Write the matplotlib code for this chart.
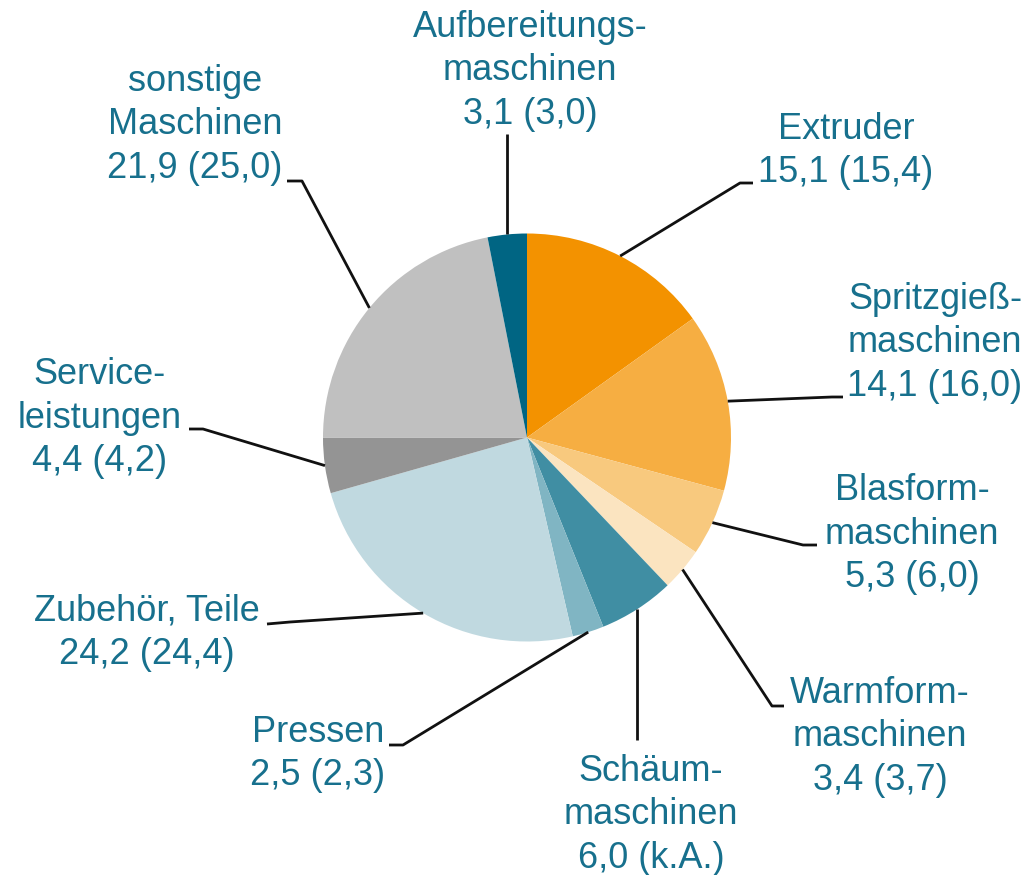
import matplotlib
matplotlib.use("Agg")
import matplotlib.pyplot as plt
import numpy as np

# ---- data ----
categories = ["Extruder", "Spritzgieß-\nmaschinen", "Blasform-\nmaschinen", "Warmform-\nmaschinen",
              "Schäum-\nmaschinen", "Pressen", "Zubehör, Teile", "Service-\nleistungen",
              "sonstige\nMaschinen", "Aufbereitungs-\nmaschinen"]
values = [15.1, 14.1, 5.3, 3.4, 6.0, 2.5, 24.2, 4.4, 21.9, 3.1]
prev_labels = ["15,4", "16,0", "6,0", "3,7", "k.A.", "2,3", "24,4", "4,2", "25,0", "3,0"]
colors = ["#f39200", "#f6ae42", "#f8c97e", "#fbe4c0", "#408ea3", "#80b5c3",
          "#c0d9e0", "#949494", "#c0c0c0", "#006583"]

# ---- layout (pixel coordinates, y from top) ----
W, H = 1033, 875
cx, cy, R = 527, 437.5, 204
text_pos = [(846, 151), (935, 343), (912, 534), (880, 737), (651, 815),
            (318, 754), (147, 633), (100, 418), (195, 125), (530, 71)]
elbows = [(740, 183), (832, 397), (803, 545), (772, 706), (None, 740),
          (403, 745), (290, 622), (203, 429), (302, 181), (None, 134)]
ends = [(753, 183), (843, 397), (817, 545), (784, 706), None,
        (389, 745), (267, 624), (189, 429), (287, 181), None]

fig = plt.figure(figsize=(W / 100, H / 100), dpi=100)
ax = fig.add_axes([0, 0, 1, 1])

ax.pie(values, colors=colors, startangle=90, counterclock=False,
       center=(cx, H - cy), radius=R, wedgeprops=dict(linewidth=0), frame=True)
ax.set_xlim(0, W)
ax.set_ylim(0, H)
ax.set_aspect("equal")
ax.axis("off")

txt_color = "#17708d"
cum = np.cumsum([0] + values)
for i, (cat, v, p) in enumerate(zip(categories, values, prev_labels)):
    mid = (cum[i] + v / 2) / 100 * 360
    ang = np.deg2rad(90 - mid)
    ax_x = cx + R * np.cos(ang)
    ax_y = cy - R * np.sin(ang)
    ex, ey = elbows[i]
    if ex is None:
        ex = ax_x
    xs = [ax_x, ex]
    ys = [ax_y, ey]
    if ends[i] is not None:
        xs.append(ends[i][0])
        ys.append(ends[i][1])
    ax.plot(xs, [H - y for y in ys], color="#111111", lw=2.0, solid_capstyle="butt",
            zorder=1)
    val = f"{v:.1f}".replace(".", ",")
    label = f"{cat}\n{val} ({p})"
    tx, ty = text_pos[i]
    ax.text(tx, H - ty, label, ha="center", va="center", multialignment="center",
            fontsize=26, family="Liberation Sans", color=txt_color, linespacing=1.3)

fig.savefig("out.png", dpi=100)
